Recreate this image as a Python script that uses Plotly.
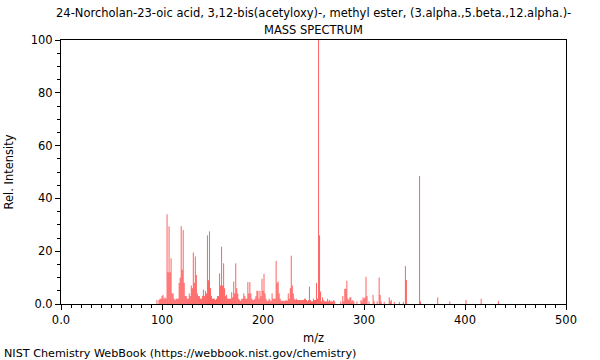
import plotly.graph_objects as go

title_line1 = "24-Norcholan-23-oic acid, 3,12-bis(acetyloxy)-, methyl ester, (3.alpha.,5.beta.,12.alpha.)-"
title_line2 = "MASS SPECTRUM"
footer = "NIST Chemistry WebBook (https://webbook.nist.gov/chemistry)"

mz = [95, 97, 98, 99, 100, 101, 102, 103, 104, 105, 106, 107, 108, 109, 110,
      111, 112, 113, 114, 115, 116, 117, 118, 119, 120, 121, 122, 123, 124, 125,
      126, 127, 128, 129, 130, 131, 132, 133, 134, 135, 136, 137, 138, 139, 140,
      141, 142, 143, 144, 145, 146, 147, 148, 149, 150, 151, 152, 153, 154, 155,
      156, 157, 158, 159, 160, 161, 162, 163, 164, 165, 166, 167, 168, 169, 170,
      171, 172, 173, 174, 175, 176, 177, 178, 179, 180, 181, 182, 183, 184, 185,
      186, 187, 188, 189, 190, 191, 192, 193, 194, 195, 196, 197, 198, 199, 200,
      201, 202, 203, 204, 205, 206, 207, 208, 209, 210, 211, 212, 213, 214, 215,
      216, 217, 218, 219, 220, 221, 222, 223, 224, 225, 226, 227, 228, 229, 230,
      231, 232, 233, 234, 235, 236, 237, 238, 239, 240, 241, 242, 243, 244, 245,
      246, 247, 248, 249, 250, 251, 252, 253, 254, 255, 256, 257, 258, 259, 260,
      261, 262, 263, 264, 265, 266, 267, 268, 269, 270, 271, 277, 279, 280, 281,
      282, 283, 284, 285, 286, 287, 288, 289, 290, 293, 297, 298, 299, 300, 301,
      302, 303, 305, 309, 310, 313, 315, 316, 317, 320, 325, 326, 327, 330, 335,
      339, 341, 342, 355, 356, 373, 385, 401, 416, 433]
intensity = [1.5, 1.5, 2, 2, 3, 3.4, 2, 2.5, 2, 34, 12, 29.4, 12, 17.3, 4,
             4, 2, 1.5, 2, 2, 2, 8, 10, 29.5, 13, 28, 8, 3, 3, 2,
             2, 4, 3, 7, 6, 19.5, 8, 18, 11, 4, 3, 3, 2, 2, 3,
             5.5, 3, 5, 4, 26, 9, 27.5, 6, 3, 2, 2, 2, 1.5, 2, 3,
             3, 11.6, 7, 21.7, 7, 15.4, 6, 3, 3.5, 2, 2, 2, 2, 4.5, 2.5,
             8.5, 4, 15.4, 6, 4, 2, 1.5, 1.2, 2, 2, 4, 3, 2, 2, 8.3,
             4, 8.3, 4, 2, 1.5, 1.5, 2, 3, 5, 5, 2, 5, 3, 9.5, 5,
             11.4, 4, 2, 1.2, 1.2, 2, 1.5, 1, 4, 2, 2, 2, 16.3, 8, 8.5,
             4, 2, 1.2, 1.2, 1.2, 1.2, 1.2, 1.5, 1.2, 4, 2, 6, 18.3, 7, 4,
             2, 1.5, 2, 1.5, 1.5, 1.5, 1.5, 1.5, 1.5, 1.5, 2, 2, 1.5, 1, 1.5,
             6.6, 1.5, 1, 1, 2, 1.5, 1.5, 8, 2, 100, 26, 4.7, 1, 2.5, 1.5,
             1, 1, 1, 2, 1, 1.5, 1, 1, 1, 1.5, 1, 1, 3, 1, 5.7,
             5.7, 8.8, 2, 1.5, 2.5, 2.5, 1, 1.5, 1, 1, 1.5, 1, 2.5, 2, 2.5,
             10.3, 3, 1, 3.5, 1, 1, 10, 3.5, 1, 0.8, 2.5, 1, 1.5, 0.8, 0.8,
             0.8, 14.4, 9.1, 48.5, 1, 2.5, 1, 1.5, 2, 1.2]

x_ticks = [0, 100, 200, 300, 400, 500]
x_tick_text = ["0.0", "100", "200", "300", "400", "500"]
y_ticks = [0, 20, 40, 60, 80, 100]
y_tick_text = ["0.0", "20", "40", "60", "80", "100"]

xs, ys = [], []
for m, i in zip(mz, intensity):
    xs += [m, m, None]
    ys += [0, i, None]

fig = go.Figure()
fig.add_trace(go.Scatter(x=xs, y=ys, mode="lines",
                         line=dict(color="rgba(255,0,0,0.62)", width=1),
                         hoverinfo="skip", showlegend=False))

font = dict(family="DejaVu Sans", size=11.5, color="black")
footer_font = dict(family="DejaVu Sans", size=11.2, color="black")
tick_font = dict(family="DejaVu Sans", size=11.5, color="black")
title_font = dict(family="DejaVu Sans", size=11.5, color="black")
fig.update_layout(
    width=600, height=360,
    margin=dict(l=61, r=34, t=40, b=56),
    paper_bgcolor="white", plot_bgcolor="white",
    font=font,
    showlegend=False,
    xaxis=dict(range=[0, 500], tickvals=x_ticks, ticktext=x_tick_text,
               tickfont=tick_font, automargin=False,
               ticks="outside", ticklen=5, tickwidth=1, tickcolor="black",
               showline=True, linecolor="black", linewidth=1, mirror=True,
               showgrid=False, zeroline=False,
               minor=dict(dtick=10, ticks="outside", ticklen=3, tickcolor="black", showgrid=False),
               title=dict(text="m/z", font=title_font, standoff=8)),
    yaxis=dict(range=[0, 100], tickvals=y_ticks, ticktext=y_tick_text,
               tickfont=tick_font, automargin=False,
               ticks="outside", ticklen=5, tickwidth=1, tickcolor="black",
               showline=True, linecolor="black", linewidth=1, mirror=True,
               showgrid=False, zeroline=False,
               minor=dict(dtick=5, ticks="outside", ticklen=3, tickcolor="black", showgrid=False),
               title=dict(text="Rel. Intensity", font=title_font, standoff=14)),
    annotations=[
        dict(text=title_line1, xref="paper", yref="paper", x=0.5, y=1, yshift=27,
             showarrow=False, xanchor="center", yanchor="middle", font=font),
        dict(text=title_line2, xref="paper", yref="paper", x=0.5, y=1, yshift=10,
             showarrow=False, xanchor="center", yanchor="middle", font=font),
        dict(text=footer, xref="paper", yref="paper", x=0, y=0, xshift=-59, yshift=-49,
             showarrow=False, xanchor="left", yanchor="middle", font=footer_font),
    ],
)

fig.write_html("out.html", config={"displayModeBar": False},
               post_script="document.body.style.margin='0';")
